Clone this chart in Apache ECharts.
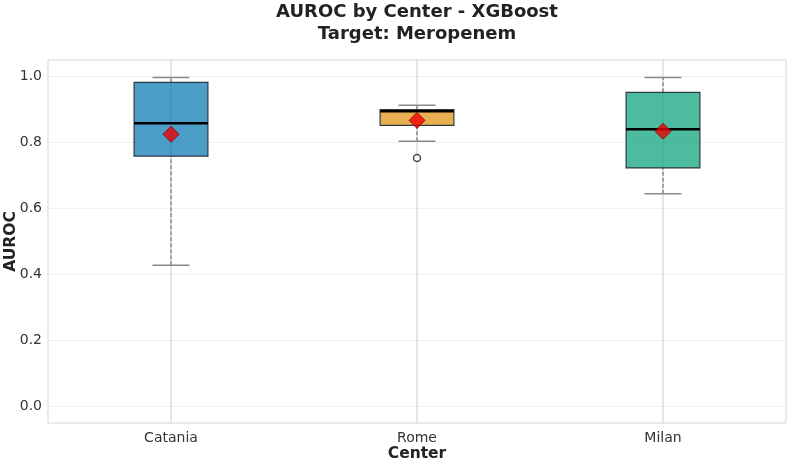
<!DOCTYPE html>
<html>
<head>
<meta charset="utf-8">
<script src="https://cdn.jsdelivr.net/npm/echarts@6/dist/echarts.min.js"></script>
<style>
  html, body { margin: 0; padding: 0; background: #fff; }
  #chart { width: 794px; height: 468px; }
</style>
</head>
<body>
<div id="chart"></div>
<script>
// data
const centers = ["Catania", "Rome", "Milan"];
// [low whisker, q1, median, q3, high whisker]
const boxStats = [
  [0.428, 0.759, 0.858, 0.982, 0.997],
  [0.804, 0.852, 0.895, 0.900, 0.913],
  [0.645, 0.723, 0.840, 0.952, 0.997]
];
const means = [0.825, 0.867, 0.834];
const outliers = [[1, 0.753]];
const boxColors = ["#0173b2", "#de8f05", "#029e73"];
const yTicks = [0.0, 0.2, 0.4, 0.6, 0.8, 1.0];

const chart = echarts.init(document.getElementById("chart"));
const font = "DejaVu Sans";

function renderBox(params, api) {
  const idx = api.value(0);
  const st = boxStats[idx];
  const cs = params.coordSys;
  const band = api.size([1, 0])[0];
  const boxW = band * 0.3;
  const capW = boxW / 2;
  const lo = api.coord([idx, st[0]]);
  const q1 = api.coord([idx, st[1]]);
  const med = api.coord([idx, st[2]]);
  const q3 = api.coord([idx, st[3]]);
  const hi = api.coord([idx, st[4]]);
  const x = lo[0];
  const gray = "#8a8a8a";
  return {
    type: "group",
    children: [
      // vertical grid line at the category
      { type: "line", shape: { x1: x, y1: cs.y, x2: x, y2: cs.y + cs.height },
        style: { stroke: "#cfcfcf", lineWidth: 1 } },
      // whiskers
      { type: "line", shape: { x1: x, y1: lo[1], x2: x, y2: q1[1] },
        style: { stroke: gray, lineWidth: 1.5, lineDash: [4, 2] } },
      { type: "line", shape: { x1: x, y1: q3[1], x2: x, y2: hi[1] },
        style: { stroke: gray, lineWidth: 1.5, lineDash: [4, 2] } },
      // caps
      { type: "line", shape: { x1: x - capW / 2, y1: lo[1], x2: x + capW / 2, y2: lo[1] },
        style: { stroke: gray, lineWidth: 1.5 } },
      { type: "line", shape: { x1: x - capW / 2, y1: hi[1], x2: x + capW / 2, y2: hi[1] },
        style: { stroke: gray, lineWidth: 1.5 } },
      // box
      { type: "rect", shape: { x: x - boxW / 2, y: q3[1], width: boxW, height: q1[1] - q3[1] },
        style: { fill: echarts.color.modifyAlpha(boxColors[idx], 0.7), stroke: "#2b3a40", lineWidth: 1.2 } },
      // median
      { type: "line", shape: { x1: x - boxW / 2, y1: med[1], x2: x + boxW / 2, y2: med[1] },
        style: { stroke: "#000", lineWidth: 2.5 } }
    ]
  };
}

const option = {
  animation: false,
  backgroundColor: "#fff",
  title: {
    text: "AUROC by Center - XGBoost\nTarget: Meropenem",
    left: 417,
    textAlign: "center",
    top: 1,
    padding: 0,
    textStyle: { fontFamily: font, fontSize: 18, fontWeight: "bold", color: "#222", lineHeight: 22 }
  },
  grid: { left: 48, right: 8, top: 60, bottom: 45, outerBoundsMode: "none", containLabel: false,
    show: true, borderColor: "#d6d6d6", borderWidth: 1 },
  xAxis: {
    type: "category",
    data: centers,
    name: "Center",
    nameLocation: "middle",
    nameGap: 23,
    nameMoveOverlap: false,
    nameTextStyle: { fontFamily: font, fontSize: 15.5, fontWeight: "bold", color: "#222" },
    axisLine: { show: false },
    axisTick: { show: false },
    splitLine: { show: false },
    axisLabel: { fontFamily: font, fontSize: 14, color: "#333", margin: 8 }
  },
  yAxis: {
    type: "value",
    min: -0.05,
    max: 1.05,
    name: "AUROC",
    nameLocation: "middle",
    nameGap: 29,
    nameMoveOverlap: false,
    nameTextStyle: { fontFamily: font, fontSize: 15.5, fontWeight: "bold", color: "#222" },
    axisLine: { show: false },
    axisLabel: {
      fontFamily: font, fontSize: 14, color: "#333", margin: 6,
      customValues: yTicks,
      formatter: (v) => v.toFixed(1)
    },
    axisTick: { show: false, customValues: yTicks },
    splitLine: { show: true, lineStyle: { color: "#f0f0f0", width: 1 } }
  },
  series: [
    {
      type: "custom",
      renderItem: renderBox,
      data: centers.map((c, i) => [i, boxStats[i][4]]),
      encode: { x: 0, y: 1 },
      z: 2
    },
    {
      type: "scatter",
      data: outliers,
      symbol: "circle",
      symbolSize: 7,
      itemStyle: { color: "#fff", borderColor: "#222", borderWidth: 1.5 },
      z: 3
    },
    {
      type: "scatter",
      data: means.map((m, i) => [i, m]),
      symbol: "diamond",
      symbolSize: [16, 16],
      itemStyle: { color: "#ee0000", borderColor: "#8b0000", borderWidth: 1 },
      z: 4
    }
  ]
};
chart.setOption(option);
</script>
</body>
</html>
